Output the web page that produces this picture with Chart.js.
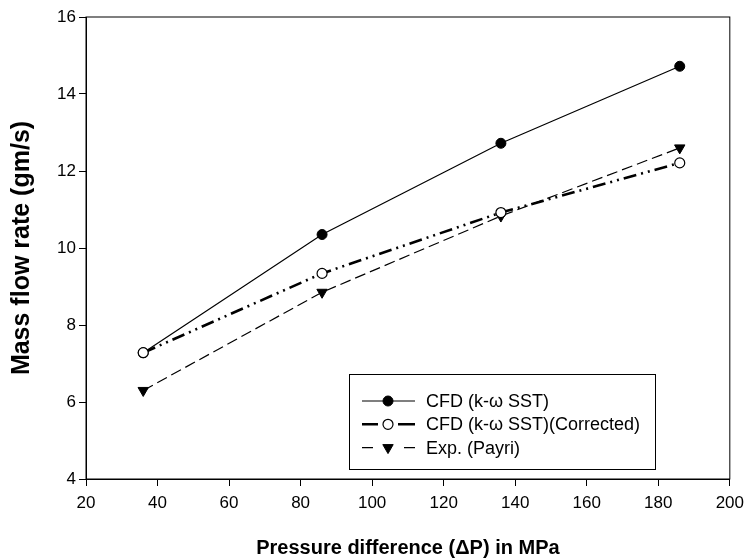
<!DOCTYPE html>
<html>
<head>
<meta charset="utf-8">
<script src="https://cdn.jsdelivr.net/npm/chart.js@4/dist/chart.umd.min.js"></script>
<style>
  body { margin: 0; background: #fff; }
</style>
</head>
<body>
<canvas id="myChart" width="751" height="558"></canvas>
<script>
const pressure = [36, 86, 136, 186];
const cfd = [7.28, 10.35, 12.72, 14.72];
const corrected = [7.28, 9.34, 10.92, 12.21];
const expPayri = [6.30, 8.85, 10.83, 12.60];

const seriesNames = ['CFD (k-\u03c9 SST)', 'CFD (k-\u03c9 SST)(Corrected)', 'Exp. (Payri)'];
const xTicks = [20, 40, 60, 80, 100, 120, 140, 160, 180, 200];
const yTicks = [4, 6, 8, 10, 12, 14, 16];

const toPoints = ys => pressure.map((x, i) => ({ x, y: ys[i] }));

Chart.defaults.font.family = '"Liberation Sans", Arial, sans-serif';
Chart.defaults.color = '#000';

const ctx = document.querySelector('#myChart').getContext('2d');

// box around the plot (top + right sides)
const frame = {
    id: 'frame',
    afterDatasetsDraw(chart) {
        const { ctx, chartArea: a } = chart;
        ctx.save();
        ctx.strokeStyle = '#000';
        ctx.lineWidth = 1;
        ctx.strokeRect(a.left, a.top, a.right - a.left, a.bottom - a.top);
        ctx.restore();
    }
};

function marker(ctx, ds, x, y) {
    ctx.save();
    ctx.fillStyle = ds.pointBackgroundColor;
    ctx.strokeStyle = '#000';
    ctx.lineWidth = ds.pointBorderWidth;
    ctx.setLineDash([]);
    ctx.beginPath();
    if (ds.pointStyle === 'triangle') {
        const r = ds.pointRadius;
        ctx.moveTo(x - r * 0.866, y - r * 0.5);
        ctx.lineTo(x + r * 0.866, y - r * 0.5);
        ctx.lineTo(x, y + r);
        ctx.closePath();
    } else {
        ctx.arc(x, y, ds.pointRadius, 0, Math.PI * 2);
    }
    ctx.fill();
    ctx.stroke();
    ctx.restore();
}

// legend box inside the plot, bottom right
const boxLegend = {
    id: 'boxLegend',
    afterDraw(chart) {
        const { ctx } = chart;
        ctx.save();
        ctx.strokeStyle = '#000';
        ctx.lineWidth = 1;
        ctx.strokeRect(349.5, 374.5, 306, 95);
        chart.data.datasets.forEach((ds, i) => {
            const y = 401 + i * 23.3;
            ctx.strokeStyle = '#000';
            ctx.lineWidth = ds.borderWidth;
            ctx.setLineDash([]);
            ctx.beginPath();
            if (i === 0) {
                ctx.moveTo(362, y); ctx.lineTo(415, y);
            } else if (i === 1) {
                ctx.moveTo(362, y); ctx.lineTo(378, y);
                ctx.moveTo(398, y); ctx.lineTo(415, y);
            } else {
                ctx.moveTo(362, y); ctx.lineTo(373, y);
                ctx.moveTo(404, y); ctx.lineTo(415, y);
            }
            ctx.stroke();
            marker(ctx, ds, 388, y);
            ctx.fillStyle = '#000';
            ctx.font = '18px "Liberation Sans", Arial, sans-serif';
            ctx.textBaseline = 'middle';
            ctx.fillText(ds.label, 426, y + 1);
        });
        ctx.restore();
    }
};

const data = {
    datasets: [
        {
            label: seriesNames[0],
            data: toPoints(cfd),
            borderColor: '#000',
            borderWidth: 1.2,
            pointStyle: 'circle',
            pointRadius: 5,
            pointBorderWidth: 1,
            pointBackgroundColor: '#000',
            pointBorderColor: '#000',
            order: 1,
        },
        {
            label: seriesNames[1],
            data: toPoints(corrected),
            borderColor: '#000',
            borderWidth: 2.6,
            borderDash: [13, 5, 2, 5, 2, 5],
            pointStyle: 'circle',
            pointRadius: 5,
            pointBorderWidth: 1.2,
            pointBackgroundColor: '#fff',
            pointBorderColor: '#000',
            order: 0,
        },
        {
            label: seriesNames[2],
            data: toPoints(expPayri),
            borderColor: '#000',
            borderWidth: 1.2,
            borderDash: [11, 5],
            pointStyle: 'triangle',
            pointRotation: 180,
            pointRadius: 6,
            pointBorderWidth: 1,
            pointBackgroundColor: '#000',
            pointBorderColor: '#000',
            order: 2,
        },
    ],
};

const config = {
    type: 'line',
    data: data,
    options: {
        responsive: false,
        animation: false,
        devicePixelRatio: 1,
        layout: { padding: { top: 17, right: 14, left: 0, bottom: 0 } },
        plugins: {
            legend: { display: false },
            tooltip: { enabled: false },
        },
        scales: {
            x: {
                type: 'linear',
                min: 20,
                max: 200,
                afterFit: s => { s.height = 79; },
                afterBuildTicks: s => { s.ticks = xTicks.map(v => ({ value: v })); },
                grid: { drawOnChartArea: false, tickLength: 7, color: '#000' },
                border: { color: '#000', width: 1 },
                ticks: { padding: 7, font: { size: 17 }, color: '#000' },
                title: {
                    display: true,
                    text: 'Pressure difference (\u0394P) in MPa',
                    font: { size: 20, weight: 'bold' },
                    padding: { top: 0, bottom: -2 },
                    color: '#000',
                },
            },
            y: {
                type: 'linear',
                min: 4,
                max: 16,
                afterFit: s => { s.width = 86; },
                afterBuildTicks: s => { s.ticks = yTicks.map(v => ({ value: v })); },
                grid: { drawOnChartArea: false, tickLength: 7, color: '#000' },
                border: { color: '#000', width: 1 },
                ticks: { padding: 3, font: { size: 17 }, color: '#000' },
                title: {
                    display: true,
                    text: 'Mass flow rate (gm/s)',
                    font: { size: 25, weight: 'bold' },
                    padding: { top: 7, bottom: 0 },
                    color: '#000',
                },
            },
        },
    },
    plugins: [frame, boxLegend],
};

const myChart = new Chart(ctx, config);
</script>
</body>
</html>
